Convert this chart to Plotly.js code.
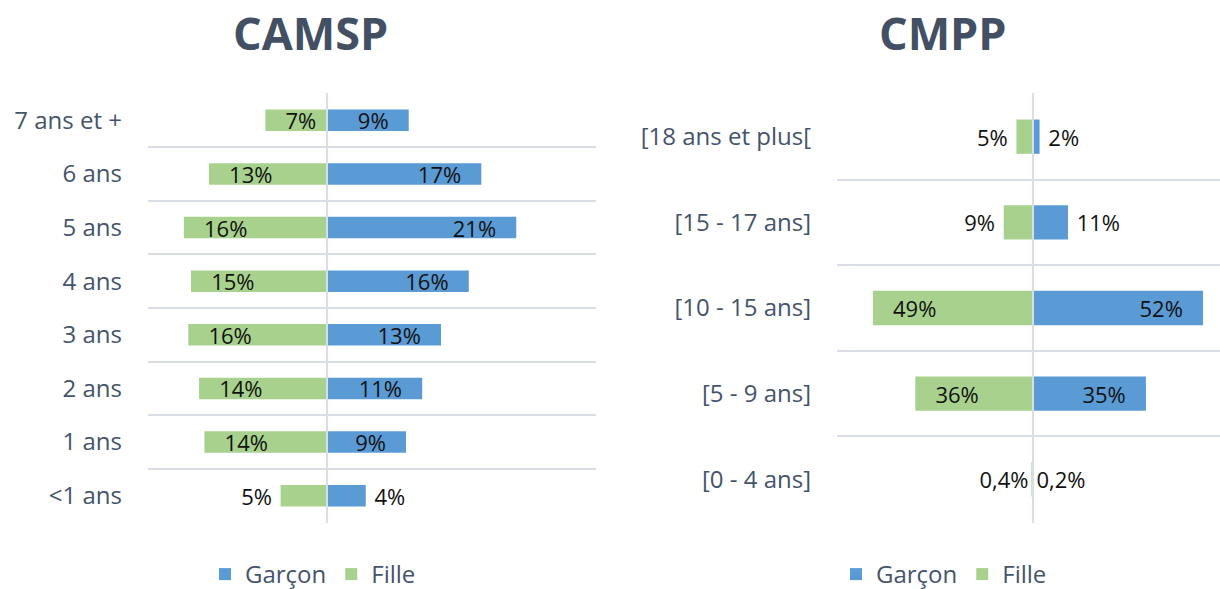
<!DOCTYPE html>
<html>
<head>
<meta charset="utf-8">
<script src="https://cdn.plot.ly/plotly-3.0.1.min.js"></script>
<style>html,body{margin:0;padding:0;background:#fff;}#chart{width:1220px;height:589px;}</style>
</head>
<body>
<div id="chart"></div>
<script>
// ---- CAMSP (left panel), bottom to top ----
const camspCategories = ['<1 ans', '1 ans', '2 ans', '3 ans', '4 ans', '5 ans', '6 ans', '7 ans et +'];
const camspGarcon = [4.3, 8.8, 10.6, 12.7, 15.8, 21.1, 17.2, 9.1];
const camspFille  = [5.2, 13.7, 14.3, 15.5, 15.2, 16.0, 13.2, 6.9];
const camspGarconLabels = ['4%', '9%', '11%', '13%', '16%', '21%', '17%', '9%'];
const camspFilleLabels  = ['5%', '14%', '14%', '16%', '15%', '16%', '13%', '7%'];

// ---- CMPP (right panel), bottom to top ----
const cmppCategories = ['[0 - 4 ans]', '[5 - 9 ans]', '[10 - 15 ans]', '[15 - 17 ans]', '[18 ans et plus['];
const cmppGarcon = [0.2, 34.7, 52.2, 10.8, 2.1];
const cmppFille  = [0.4, 36.0, 49.0, 8.9, 5.0];
const cmppGarconLabels = ['0,2%', '35%', '52%', '11%', '2%'];
const cmppFilleLabels  = ['0,4%', '36%', '49%', '9%', '5%'];

const seriesNames = ['Garçon', 'Fille'];
const titles = ['CAMSP', 'CMPP'];

const BLUE = '#5B9BD5', GREEN = '#A9D18E';
const TXT = '#44546A';
const GRID = '#D9DEE6';
const FONT = 'Open Sans, sans-serif';
const NB = '\u00a0';

function pos(v, threshold) { return v >= threshold ? 'inside' : 'outside'; }
function garconText(labels, vals, thr) {
  return labels.map((t, i) => vals[i] >= thr ? t + NB + NB + NB : (vals[i] < 1 ? t : NB + t));
}
function filleText(labels, vals, thr) {
  return labels.map((t, i) => vals[i] >= thr ? NB + NB + NB + t : (vals[i] < 1 ? t : t + NB));
}

const common = {
  type: 'bar', orientation: 'h',
  textangle: 0, constraintext: 'none', cliponaxis: false,
  insidetextanchor: 'end',
  textfont: {family: FONT, size: 22, color: '#111'},
  hoverinfo: 'skip'
};

const thrL = 6, thrR = 20;
const traces = [
  Object.assign({}, common, {
    name: seriesNames[0], y: camspCategories, x: camspGarcon,
    text: garconText(camspGarconLabels, camspGarcon, thrL),
    textposition: camspGarcon.map(v => pos(v, thrL)),
    marker: {color: BLUE}, xaxis: 'x', yaxis: 'y', legend: 'legend'
  }),
  Object.assign({}, common, {
    name: seriesNames[1], y: camspCategories, x: camspFille.map(v => -v),
    text: filleText(camspFilleLabels, camspFille, thrL),
    textposition: camspFille.map(v => pos(v, thrL)),
    marker: {color: GREEN}, xaxis: 'x', yaxis: 'y', legend: 'legend'
  }),
  Object.assign({}, common, {
    name: seriesNames[0], y: cmppCategories, x: cmppGarcon,
    text: garconText(cmppGarconLabels, cmppGarcon, thrR),
    textposition: cmppGarcon.map(v => pos(v, thrR)),
    marker: {color: BLUE}, xaxis: 'x2', yaxis: 'y2', legend: 'legend2'
  }),
  Object.assign({}, common, {
    name: seriesNames[1], y: cmppCategories, x: cmppFille.map(v => -v),
    text: filleText(cmppFilleLabels, cmppFille, thrR),
    textposition: cmppFille.map(v => pos(v, thrR)),
    marker: {color: GREEN}, xaxis: 'x2', yaxis: 'y2', legend: 'legend2'
  })
];

const yDom = [1 - 523/589, 1 - 93/589];
const xAxisBase = {
  showgrid: false, showticklabels: false, ticks: '',
  zeroline: true, zerolinecolor: GRID, zerolinewidth: 2, zerolinelayer: 'above traces',
  fixedrange: true, showline: false
};
const yAxisBase = {
  type: 'category', tickson: 'boundaries', showgrid: true, gridcolor: GRID, gridwidth: 2,
  ticks: '', showline: false, zeroline: false,
  tickfont: {family: FONT, size: 24, color: TXT},
  ticklabelstandoff: 25, domain: yDom, fixedrange: true
};
const legendBase = {
  orientation: 'h', yanchor: 'bottom', y: -8/589, xanchor: 'center',
  font: {family: FONT, size: 24, color: TXT}, traceorder: 'normal',
  itemwidth: 30, bgcolor: 'rgba(0,0,0,0)'
};

const layout = {
  width: 1220, height: 589,
  margin: {l: 0, r: 0, t: 0, b: 0, autoexpand: false},
  paper_bgcolor: '#fff', plot_bgcolor: '#fff',
  barmode: 'relative', bargap: 0.6,
  showlegend: true,
  xaxis: Object.assign({}, xAxisBase, {domain: [148/1220, 596/1220], range: [-20, 30], anchor: 'y'}),
  yaxis: Object.assign({}, yAxisBase, {anchor: 'x', range: [-0.51, camspCategories.length - 0.49]}),
  xaxis2: Object.assign({}, xAxisBase, {domain: [837/1220, 1], range: [-60, 57.4], anchor: 'y2'}),
  yaxis2: Object.assign({}, yAxisBase, {anchor: 'x2', range: [-0.51, cmppCategories.length - 0.49]}),
  legend: Object.assign({}, legendBase, {x: 313/1220}),
  legend2: Object.assign({}, legendBase, {x: 944/1220}),
  annotations: [
    {text: '<b>' + titles[0] + '</b>', xref: 'paper', yref: 'paper', x: 310/1220, y: 1 - 33/589,
     xanchor: 'center', yanchor: 'middle', showarrow: false, font: {family: FONT, size: 45, color: '#435064'}},
    {text: '<b>' + titles[1] + '</b>', xref: 'paper', yref: 'paper', x: 943/1220, y: 1 - 33/589,
     xanchor: 'center', yanchor: 'middle', showarrow: false, font: {family: FONT, size: 45, color: '#435064'}}
  ]
};

Plotly.newPlot('chart', traces, layout, {staticPlot: true, displayModeBar: false});
</script>
</body>
</html>
